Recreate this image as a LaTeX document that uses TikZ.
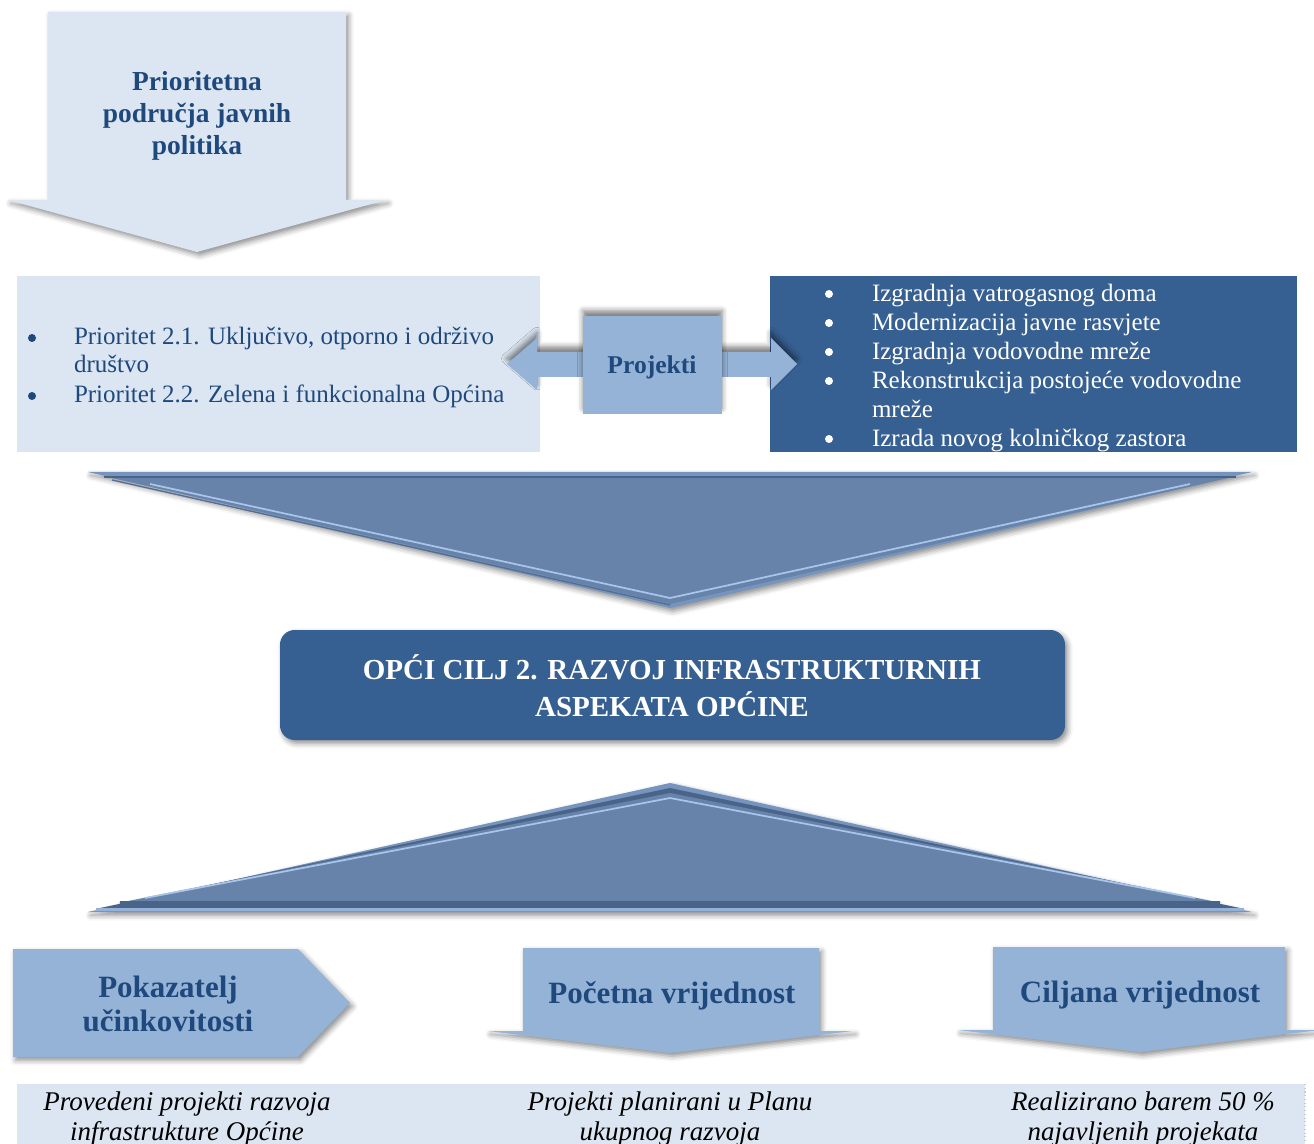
\documentclass[tikz,border=0pt]{standalone}
\usepackage{fontspec}
\setmainfont{Liberation Serif}
\usetikzlibrary{shadows.blur}
\definecolor{lightbg}{HTML}{DCE6F2}
\definecolor{midbl}{HTML}{95B3D7}
\definecolor{darkbl}{HTML}{376092}
\definecolor{txtbl}{HTML}{1F497D}
\definecolor{trifill}{HTML}{6783A9}
\definecolor{tririm}{HTML}{7594BE}
\definecolor{trilight}{HTML}{A8C5EC}
\definecolor{tridark}{HTML}{4A6389}
\tikzset{
  softshadow/.style={blur shadow={shadow xshift=2pt, shadow yshift=-2.5pt, shadow blur radius=4pt, shadow opacity=45}},
  upshadow/.style={blur shadow={shadow xshift=0pt, shadow yshift=4pt, shadow blur radius=4pt, shadow opacity=50}},
  line/.style={inner sep=0pt, outer sep=0pt, text height=0.7em, text depth=0.22em},
  listtxt/.style={line, anchor=west, font=\fontsize{18.75pt}{21.75pt}\selectfont},
  bul/.style={circle, inner sep=0pt, minimum size=6pt},
  hdr/.style={align=center, text=txtbl, font=\bfseries\fontsize{23.25pt}{25.5pt}\selectfont},
  ital/.style={align=center, text=black, font=\itshape\fontsize{20.25pt}{22.5pt}\selectfont}
}
\begin{document}
\begin{tikzpicture}[x=0.75pt,y=-0.75pt]
\useasboundingbox (0,0) rectangle (1314,1144);

% top arrow
\fill[softshadow, lightbg] (48,12) -- (346,12) -- (346,200) -- (386,200) -- (197,252) -- (8,200) -- (48,200) -- cycle;
\node[align=center, text=txtbl, font=\bfseries\fontsize{20.6pt}{24pt}\selectfont] (prio) at (197,116)
  {Prioritetna\\područja javnih\\politika};

% left box
\fill[lightbg] (17,276) rectangle (540,452);
\node[bul, fill=txtbl] (lb1) at (32,338) {};
\node[listtxt, text=txtbl] (l1) at (74,341) {Prioritet 2.1. Uključivo, otporno i održivo};
\node[listtxt, text=txtbl] (l1b) at (74,369) {društvo};
\node[bul, fill=txtbl] (lb2) at (32,396) {};
\node[listtxt, text=txtbl] (l2) at (74,399) {Prioritet 2.2. Zelena i funkcionalna Općina};

% right box
\fill[darkbl] (770,276) rectangle (1297,452);
\foreach \y/\t [count=\i] in {293/Izgradnja vatrogasnog doma, 322/Modernizacija javne rasvjete, 351/Izgradnja vodovodne mreže, 380/Rekonstrukcija postojeće vodovodne, 438/Izrada novog kolničkog zastora}{
  \node[bul, fill=white] (rb\i) at (829,\y+1) {};
  \node[listtxt, text=white] (r\i) at (872,\y+5) {\t};
}
\node[listtxt, text=white] (r4b) at (872,414) {mreže};

% Projekti double arrow
\fill[upshadow, midbl] (507,364) -- (537,338) -- (537,352) -- (771,352) -- (771,338) -- (797,364) -- (771,390) -- (771,377) -- (537,377) -- (537,390) -- cycle;
\fill[upshadow, midbl] (583,316) rectangle (722,414);
\node[text=txtbl, font=\bfseries\fontsize{19.2pt}{22pt}\selectfont] (proj) at (652,367) {Projekti};

% big down triangle
\fill[softshadow, tririm] (88,472) -- (1252,472) -- (670,608) -- cycle;
\fill[trifill] (112,478) -- (1228,478) -- (670,604) -- cycle;
\draw[tridark, line width=2pt] (104,477) -- (1236,477);
\draw[trilight, line width=1.3pt] (150,484) -- (670,598) -- (1190,484);
\draw[tridark!70!trifill, line width=1pt] (112,480) -- (670,605);

% main goal box
\fill[softshadow, darkbl, rounded corners=11pt] (280,630) rectangle (1065,740);
\node[align=center, text=white, font=\bfseries\fontsize{21.75pt}{27.75pt}\selectfont] (goal) at (672,686)
  {OPĆI CILJ 2. RAZVOJ INFRASTRUKTURNIH\\ASPEKATA OPĆINE};

% big up triangle
\fill[softshadow, tririm] (88,912) -- (1252,912) -- (670,783) -- cycle;
\fill[tridark] (100,908) -- (1240,908) -- (670,788) -- cycle;
\fill[trifill] (118,903) -- (1222,903) -- (670,793) -- cycle;
\draw[trilight, line width=1.3pt] (145,898) -- (670,798) -- (1195,898);
\draw[tridark, line width=2.5pt] (120,903) -- (1220,903);
\draw[trilight!60!tririm, line width=2pt] (96,909.5) -- (1244,909.5);

% bottom headers
\fill[softshadow, midbl] (13,949) -- (298,949) -- (350,1003) -- (298,1057) -- (13,1057) -- cycle;
\node[hdr] (pok) at (168,1004) {Pokazatelj\\učinkovitosti};
\fill[softshadow, midbl] (523,948) -- (819,948) -- (819,1031) -- (853,1031) -- (670,1053) -- (488,1031) -- (523,1031) -- cycle;
\node[hdr] (poc) at (672,996) {Početna vrijednost};
\fill[softshadow, midbl] (993,947) -- (1285,947) -- (1285,1030) -- (1320,1030) -- (1140,1052) -- (958,1030) -- (993,1030) -- cycle;
\node[hdr] (cilj) at (1140,995) {Ciljana vrijednost};

% bottom strip
\fill[lightbg] (17,1084) rectangle (1305,1150);
\draw[gray!40, dotted, line width=0.8pt] (1305,1084) -- (1305,1144);
\node[ital] (t1) at (187,1119) {Provedeni projekti razvoja\\infrastrukture Općine};
\node[ital] (t2) at (670,1119) {Projekti planirani u Planu\\ukupnog razvoja};
\node[ital] (t3) at (1143,1119) {Realizirano barem 50 \%\\najavljenih projekata};
\end{tikzpicture}
\end{document}
